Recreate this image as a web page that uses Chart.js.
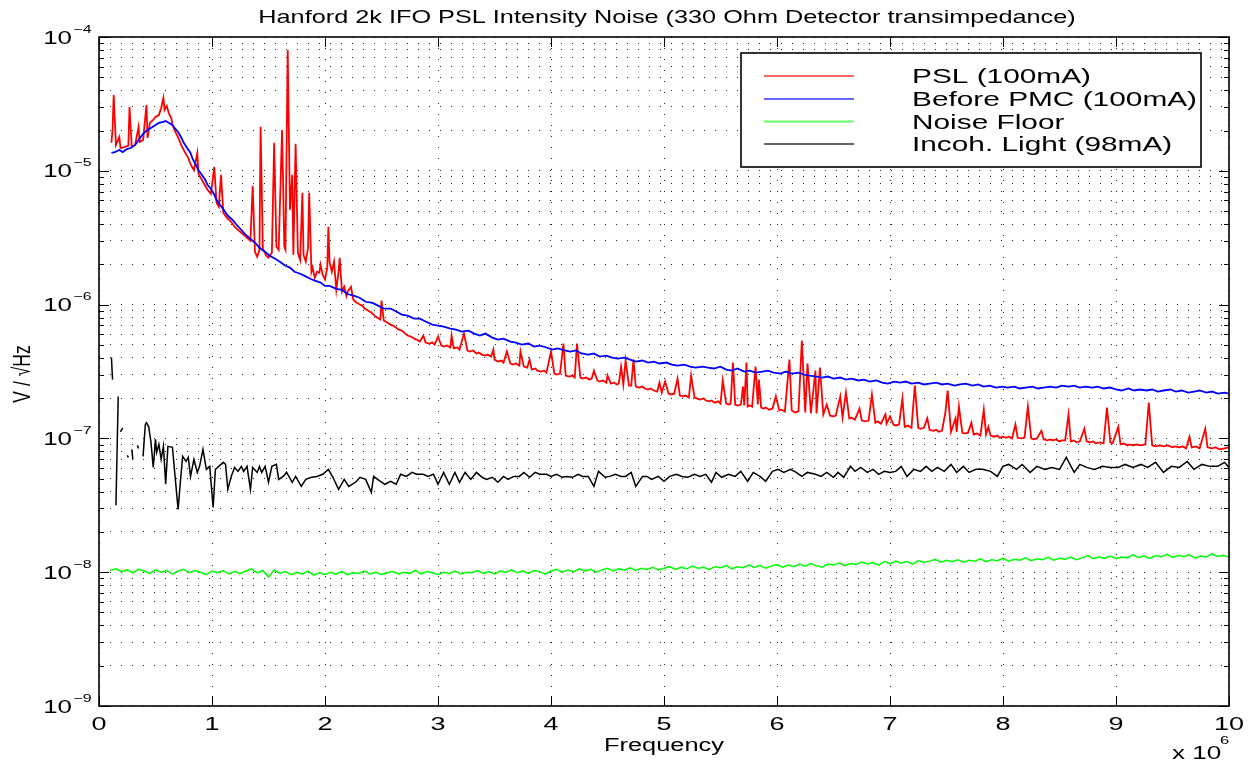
<!DOCTYPE html>
<html><head><meta charset="utf-8">
<script src="https://cdn.jsdelivr.net/npm/chart.js@4.4.1/dist/chart.umd.min.js"></script>
<style>html,body{margin:0;padding:0;background:#fff;}canvas{display:block;}</style>
</head><body>
<canvas id="c" width="1254" height="765"></canvas>
<script>
// ---------- texts / ticks ----------
const titleText = 'Hanford 2k IFO PSL Intensity Noise (330 Ohm Detector transimpedance)';
const xAxisTitle = 'Frequency';
const yAxisTitle = 'V / \u221AHz';
const xMultiplier = ['x 10', '6'];
const xTicks = [0,1,2,3,4,5,6,7,8,9,10];
const xTickLabels = ['0','1','2','3','4','5','6','7','8','9','10'];
const yDecades = [1e-9,1e-8,1e-7,1e-6,1e-5,1e-4];
const yDecadeExponents = ['\u22129','\u22128','\u22127','\u22126','\u22125','\u22124'];
const yMinorMultipliers = [2,3,4,5,6,7,8,9];
const seriesLabels = ['PSL (100mA)','Before PMC (100mA)','Noise Floor','Incoh. Light (98mA)'];
const seriesColors = ['#ff0000','#0000ff','#00ff00','#000000'];

// ---------- data: [frequency (MHz), V/sqrt(Hz)] ----------
const pslPoints = [
[0.11,1.62e-5],[0.12,2.02e-5],[0.13,3.69e-5],[0.15,1.56e-5],[0.18,1.79e-5],[0.19,1.48e-5],[0.23,1.51e-5],[0.26,1.54e-5],
[0.27,3.00e-5],[0.29,1.51e-5],[0.32,1.56e-5],[0.35,2.13e-5],[0.36,1.64e-5],[0.39,1.70e-5],[0.42,3.10e-5],[0.43,1.76e-5],
[0.45,2.28e-5],[0.48,2.40e-5],[0.50,2.53e-5],[0.53,2.61e-5],[0.55,2.95e-5],[0.57,3.50e-5],[0.58,2.85e-5],[0.60,3.05e-5],
[0.62,2.66e-5],[0.64,2.48e-5],[0.65,2.20e-5],[0.68,1.92e-5],[0.71,1.70e-5],[0.73,1.54e-5],[0.76,1.38e-5],[0.79,1.25e-5],
[0.81,1.12e-5],[0.84,1.01e-5],[0.87,1.36e-5],[0.88,9.50e-6],[0.91,8.57e-6],[0.94,7.73e-6],[0.96,7.21e-6],[0.99,6.73e-6],
[1.02,1.07e-5],[1.04,5.77e-6],[1.06,5.39e-6],[1.08,9.34e-6],[1.10,4.86e-6],[1.13,4.46e-6],[1.17,4.16e-6],[1.20,3.82e-6],
[1.24,3.56e-6],[1.27,3.38e-6],[1.31,3.16e-6],[1.34,3.00e-6],[1.36,7.73e-6],[1.38,2.48e-6],[1.40,2.28e-6],[1.42,2.57e-6],
[1.43,2.13e-5],[1.45,2.61e-6],[1.48,2.32e-6],[1.50,2.24e-6],[1.53,2.44e-6],[1.55,1.62e-5],[1.57,2.71e-6],[1.59,2.57e-6],
[1.62,2.02e-5],[1.64,2.71e-6],[1.65,2.57e-6],[1.67,8.00e-5],[1.69,5.12e-6],[1.71,9.34e-6],[1.72,2.36e-6],[1.74,1.59e-5],
[1.76,2.44e-6],[1.78,2.16e-6],[1.80,6.85e-6],[1.81,2.36e-6],[1.83,2.09e-6],[1.85,2.66e-6],[1.86,6.85e-6],[1.88,1.76e-6],
[1.89,1.89e-6],[1.91,1.59e-6],[1.93,1.76e-6],[1.95,1.73e-6],[1.96,1.99e-6],[1.98,1.67e-6],[2.00,1.54e-6],[2.02,1.89e-6],
[2.03,3.82e-6],[2.04,2.09e-6],[2.06,1.76e-6],[2.08,2.09e-6],[2.10,1.29e-6],[2.12,1.76e-6],[2.13,2.24e-6],[2.15,1.25e-6],
[2.17,1.36e-6],[2.19,1.16e-6],[2.20,1.25e-6],[2.23,1.36e-6],[2.25,1.09e-6],[2.27,1.05e-6],[2.30,1.01e-6],[2.33,9.83e-7],
[2.35,9.34e-7],[2.38,9.02e-7],[2.41,8.72e-7],[2.43,8.42e-7],[2.46,8.00e-7],[2.49,7.73e-7],[2.50,1.07e-6],[2.52,7.60e-7],
[2.55,7.34e-7],[2.58,7.09e-7],[2.60,6.97e-7],[2.63,6.73e-7],[2.65,6.51e-7],[2.68,6.39e-7],[2.71,6.07e-7],[2.73,5.87e-7],
[2.76,5.77e-7],[2.79,5.57e-7],[2.81,5.48e-7],[2.84,5.29e-7],[2.87,5.87e-7],[2.89,5.20e-7],[2.92,5.12e-7],[2.95,5.20e-7],
[2.97,5.03e-7],[3.00,5.77e-7],[3.03,4.94e-7],[3.05,4.86e-7],[3.08,4.94e-7],[3.11,4.78e-7],[3.12,5.87e-7],[3.14,4.70e-7],
[3.17,4.78e-7],[3.19,4.61e-7],[3.23,6.07e-7],[3.26,4.54e-7],[3.28,4.46e-7],[3.31,4.54e-7],[3.34,4.31e-7],[3.36,4.38e-7],
[3.39,4.23e-7],[3.42,4.16e-7],[3.44,4.23e-7],[3.47,4.09e-7],[3.49,4.61e-7],[3.50,3.88e-7],[3.53,3.75e-7],[3.56,3.82e-7],
[3.58,3.69e-7],[3.61,4.46e-7],[3.64,3.63e-7],[3.66,3.56e-7],[3.69,3.63e-7],[3.72,3.50e-7],[3.73,4.46e-7],[3.76,3.44e-7],
[3.79,3.38e-7],[3.81,3.88e-7],[3.83,3.27e-7],[3.86,3.33e-7],[3.88,3.21e-7],[3.91,3.16e-7],[3.94,3.21e-7],[3.96,3.10e-7],
[4.00,4.46e-7],[4.03,3.05e-7],[4.05,3.00e-7],[4.08,3.05e-7],[4.11,5.12e-7],[4.13,2.95e-7],[4.16,2.90e-7],[4.19,2.95e-7],
[4.21,2.85e-7],[4.23,5.12e-7],[4.26,2.85e-7],[4.28,2.80e-7],[4.31,2.85e-7],[4.34,2.75e-7],[4.36,2.80e-7],[4.38,3.21e-7],
[4.41,2.71e-7],[4.43,2.66e-7],[4.46,2.71e-7],[4.49,2.61e-7],[4.50,2.95e-7],[4.53,2.57e-7],[4.56,2.61e-7],[4.58,2.53e-7],
[4.60,2.57e-7],[4.62,3.44e-7],[4.64,2.53e-7],[4.66,3.82e-7],[4.69,2.48e-7],[4.71,2.48e-7],[4.73,3.88e-7],[4.75,2.44e-7],
[4.78,2.40e-7],[4.81,2.44e-7],[4.83,2.36e-7],[4.86,2.32e-7],[4.88,2.36e-7],[4.91,2.28e-7],[4.94,2.24e-7],[4.96,2.61e-7],
[4.98,2.20e-7],[5.01,2.66e-7],[5.04,2.16e-7],[5.06,2.13e-7],[5.09,2.16e-7],[5.12,2.80e-7],[5.14,2.09e-7],[5.17,2.06e-7],
[5.19,2.09e-7],[5.22,2.02e-7],[5.24,2.95e-7],[5.27,2.02e-7],[5.29,1.99e-7],[5.32,1.95e-7],[5.35,1.99e-7],[5.37,1.92e-7],
[5.40,1.89e-7],[5.42,1.92e-7],[5.45,1.85e-7],[5.48,1.89e-7],[5.50,1.82e-7],[5.52,2.71e-7],[5.55,1.82e-7],[5.58,1.79e-7],
[5.59,1.82e-7],[5.61,3.69e-7],[5.63,1.79e-7],[5.65,1.76e-7],[5.68,1.79e-7],[5.70,2.44e-7],[5.71,1.76e-7],[5.73,3.69e-7],
[5.74,1.73e-7],[5.76,1.76e-7],[5.78,1.73e-7],[5.81,3.44e-7],[5.83,1.79e-7],[5.84,2.75e-7],[5.86,1.70e-7],[5.88,1.67e-7],
[5.90,1.70e-7],[5.93,1.64e-7],[5.96,1.67e-7],[5.99,2.06e-7],[6.02,1.62e-7],[6.04,1.64e-7],[6.07,1.59e-7],[6.11,3.88e-7],
[6.13,1.62e-7],[6.16,1.56e-7],[6.19,1.59e-7],[6.22,5.39e-7],[6.25,1.56e-7],[6.27,3.63e-7],[6.30,1.54e-7],[6.34,3.21e-7],
[6.35,1.54e-7],[6.38,3.38e-7],[6.41,1.51e-7],[6.44,1.79e-7],[6.47,1.48e-7],[6.50,1.46e-7],[6.52,1.48e-7],[6.56,2.06e-7],
[6.58,1.43e-7],[6.61,2.20e-7],[6.64,1.41e-7],[6.66,1.43e-7],[6.69,1.38e-7],[6.73,1.67e-7],[6.75,1.36e-7],[6.78,1.34e-7],
[6.81,1.36e-7],[6.84,2.13e-7],[6.87,1.31e-7],[6.89,1.34e-7],[6.92,1.29e-7],[6.96,1.51e-7],[6.97,1.29e-7],[7.00,1.46e-7],
[7.03,1.27e-7],[7.05,1.25e-7],[7.08,1.27e-7],[7.11,1.99e-7],[7.13,1.22e-7],[7.16,1.25e-7],[7.19,1.20e-7],[7.22,2.48e-7],
[7.25,1.20e-7],[7.27,1.18e-7],[7.30,1.20e-7],[7.33,1.41e-7],[7.35,1.16e-7],[7.38,1.14e-7],[7.41,1.16e-7],[7.43,1.12e-7],
[7.46,1.14e-7],[7.49,1.56e-7],[7.51,2.28e-7],[7.54,1.12e-7],[7.58,1.41e-7],[7.59,1.12e-7],[7.61,1.73e-7],[7.64,1.10e-7],
[7.66,1.09e-7],[7.69,1.10e-7],[7.72,1.31e-7],[7.74,1.07e-7],[7.77,1.09e-7],[7.80,1.05e-7],[7.83,1.64e-7],[7.85,1.07e-7],
[7.87,1.22e-7],[7.89,1.05e-7],[7.92,1.03e-7],[7.95,1.05e-7],[7.97,1.01e-7],[8.00,1.03e-7],[8.03,1.01e-7],[8.05,1.03e-7],
[8.08,1.00e-7],[8.11,1.27e-7],[8.13,1.01e-7],[8.16,1.00e-7],[8.19,1.01e-7],[8.22,1.73e-7],[8.25,1.00e-7],[8.27,9.83e-8],
[8.30,1.00e-7],[8.34,1.14e-7],[8.36,9.83e-8],[8.39,9.66e-8],[8.42,9.83e-8],[8.44,9.66e-8],[8.47,9.83e-8],[8.50,9.50e-8],
[8.52,9.66e-8],[8.55,9.66e-8],[8.58,1.51e-7],[8.60,9.50e-8],[8.63,9.66e-8],[8.65,9.34e-8],[8.68,9.50e-8],[8.72,1.18e-7],
[8.74,9.50e-8],[8.77,9.34e-8],[8.80,9.50e-8],[8.82,9.18e-8],[8.86,9.34e-8],[8.89,9.18e-8],[8.92,1.70e-7],[8.95,9.34e-8],
[8.97,9.18e-8],[9.02,1.22e-7],[9.04,9.02e-8],[9.07,9.18e-8],[9.10,8.87e-8],[9.12,9.02e-8],[9.15,8.87e-8],[9.18,9.02e-8],
[9.22,8.87e-8],[9.26,9.02e-8],[9.29,1.85e-7],[9.32,8.87e-8],[9.35,8.72e-8],[9.39,8.87e-8],[9.42,8.72e-8],[9.46,8.87e-8],
[9.50,8.57e-8],[9.52,8.72e-8],[9.56,8.57e-8],[9.59,8.72e-8],[9.62,8.42e-8],[9.65,1.03e-7],[9.67,8.57e-8],[9.71,8.72e-8],
[9.74,8.42e-8],[9.79,1.18e-7],[9.81,8.57e-8],[9.85,8.42e-8],[9.88,8.57e-8],[9.92,8.28e-8],[9.96,8.42e-8],[10.00,8.57e-8]
];
const pmcPoints = [
[0.11,1.36e-5],[0.14,1.38e-5],[0.18,1.43e-5],[0.21,1.38e-5],[0.25,1.46e-5],[0.28,1.48e-5],[0.32,1.56e-5],[0.35,1.70e-5],
[0.39,1.89e-5],[0.42,1.99e-5],[0.46,2.09e-5],[0.50,2.20e-5],[0.53,2.28e-5],[0.57,2.32e-5],[0.59,2.36e-5],[0.62,2.28e-5],
[0.65,2.20e-5],[0.67,2.09e-5],[0.70,1.95e-5],[0.73,1.76e-5],[0.75,1.62e-5],[0.78,1.48e-5],[0.81,1.36e-5],[0.83,1.22e-5],
[0.86,1.10e-5],[0.88,1.01e-5],[0.91,9.34e-6],[0.94,8.57e-6],[0.96,7.86e-6],[0.99,7.34e-6],[1.02,6.62e-6],[1.04,6.07e-6],
[1.07,5.57e-6],[1.11,5.03e-6],[1.14,4.61e-6],[1.18,4.31e-6],[1.21,4.02e-6],[1.25,3.69e-6],[1.29,3.38e-6],[1.34,3.10e-6],
[1.38,2.90e-6],[1.42,2.66e-6],[1.47,2.48e-6],[1.51,2.32e-6],[1.56,2.20e-6],[1.60,2.09e-6],[1.65,1.95e-6],[1.69,1.89e-6],
[1.73,1.76e-6],[1.78,1.70e-6],[1.82,1.64e-6],[1.87,1.56e-6],[1.91,1.51e-6],[1.96,1.46e-6],[2.00,1.38e-6],[2.04,1.38e-6],
[2.10,1.31e-6],[2.15,1.29e-6],[2.20,1.20e-6],[2.26,1.16e-6],[2.31,1.12e-6],[2.36,1.05e-6],[2.42,1.03e-6],[2.47,9.83e-7],
[2.52,9.34e-7],[2.58,9.34e-7],[2.63,8.87e-7],[2.68,8.42e-7],[2.73,8.28e-7],[2.79,7.86e-7],[2.84,7.86e-7],[2.89,7.47e-7],
[2.95,7.09e-7],[3.00,6.97e-7],[3.05,6.85e-7],[3.11,6.62e-7],[3.16,6.51e-7],[3.21,6.29e-7],[3.27,6.39e-7],[3.32,6.07e-7],
[3.37,5.87e-7],[3.42,6.07e-7],[3.48,5.67e-7],[3.53,5.48e-7],[3.58,5.57e-7],[3.64,5.29e-7],[3.69,5.20e-7],[3.74,5.03e-7],
[3.80,5.12e-7],[3.85,4.86e-7],[3.90,4.94e-7],[3.96,4.78e-7],[4.01,4.61e-7],[4.06,4.70e-7],[4.12,4.54e-7],[4.17,4.46e-7],
[4.22,4.54e-7],[4.27,4.31e-7],[4.33,4.23e-7],[4.38,4.31e-7],[4.43,4.09e-7],[4.49,4.16e-7],[4.54,4.02e-7],[4.59,3.95e-7],
[4.65,4.02e-7],[4.70,3.88e-7],[4.75,3.75e-7],[4.81,3.82e-7],[4.86,3.69e-7],[4.91,3.75e-7],[4.96,3.63e-7],[5.02,3.69e-7],
[5.07,3.56e-7],[5.12,3.50e-7],[5.18,3.56e-7],[5.23,3.44e-7],[5.28,3.38e-7],[5.34,3.44e-7],[5.39,3.38e-7],[5.44,3.33e-7],
[5.50,3.44e-7],[5.55,3.27e-7],[5.60,3.21e-7],[5.65,3.33e-7],[5.71,3.16e-7],[5.76,3.21e-7],[5.81,3.10e-7],[5.87,3.16e-7],
[5.92,3.21e-7],[5.97,3.10e-7],[6.03,3.05e-7],[6.08,3.16e-7],[6.13,3.05e-7],[6.19,3.10e-7],[6.24,3.00e-7],[6.29,2.95e-7],
[6.35,2.90e-7],[6.40,2.85e-7],[6.45,2.90e-7],[6.50,2.80e-7],[6.56,2.85e-7],[6.61,2.75e-7],[6.66,2.80e-7],[6.72,2.71e-7],
[6.77,2.75e-7],[6.82,2.66e-7],[6.88,2.71e-7],[6.93,2.61e-7],[6.98,2.57e-7],[7.04,2.66e-7],[7.09,2.61e-7],[7.14,2.66e-7],
[7.19,2.57e-7],[7.25,2.61e-7],[7.30,2.53e-7],[7.35,2.57e-7],[7.41,2.61e-7],[7.46,2.53e-7],[7.51,2.57e-7],[7.57,2.48e-7],
[7.62,2.53e-7],[7.67,2.57e-7],[7.73,2.48e-7],[7.78,2.53e-7],[7.83,2.44e-7],[7.88,2.48e-7],[7.94,2.40e-7],[7.99,2.44e-7],
[8.04,2.40e-7],[8.10,2.44e-7],[8.15,2.36e-7],[8.20,2.40e-7],[8.26,2.44e-7],[8.31,2.36e-7],[8.36,2.40e-7],[8.42,2.44e-7],
[8.47,2.40e-7],[8.52,2.48e-7],[8.58,2.44e-7],[8.63,2.48e-7],[8.68,2.40e-7],[8.73,2.44e-7],[8.79,2.40e-7],[8.84,2.44e-7],
[8.89,2.36e-7],[8.95,2.40e-7],[9.00,2.32e-7],[9.05,2.28e-7],[9.11,2.36e-7],[9.16,2.28e-7],[9.21,2.32e-7],[9.27,2.28e-7],
[9.32,2.32e-7],[9.37,2.24e-7],[9.42,2.28e-7],[9.48,2.32e-7],[9.53,2.24e-7],[9.58,2.28e-7],[9.64,2.20e-7],[9.69,2.24e-7],
[9.74,2.28e-7],[9.80,2.20e-7],[9.85,2.24e-7],[9.90,2.16e-7],[9.96,2.20e-7],[10.00,2.16e-7]
];
const floorPoints = [
[0.10,1.03e-8],[0.15,1.06e-8],[0.20,1.01e-8],[0.25,1.04e-8],[0.30,9.9e-9],[0.35,1.05e-8],[0.40,1.02e-8],[0.45,9.8e-9],
[0.50,1.04e-8],[0.55,1.00e-8],[0.60,1.03e-8],[0.65,9.7e-9],[0.70,1.02e-8],[0.75,1.05e-8],[0.80,9.9e-9],[0.85,1.03e-8],
[0.90,1.00e-8],[0.95,9.6e-9],[1.00,1.02e-8],[1.05,9.9e-9],[1.10,1.03e-8],[1.15,9.7e-9],[1.20,1.01e-8],[1.25,9.8e-9],
[1.30,1.02e-8],[1.35,1.06e-8],[1.40,9.9e-9],[1.45,1.03e-8],[1.50,9.2e-9],[1.55,1.04e-8],[1.60,9.8e-9],[1.65,1.01e-8],
[1.70,9.6e-9],[1.75,1.00e-8],[1.80,9.7e-9],[1.85,1.02e-8],[1.90,9.5e-9],[1.95,9.9e-9],[2.00,9.6e-9],[2.05,1.00e-8],
[2.10,9.7e-9],[2.15,1.01e-8],[2.20,9.6e-9],[2.25,9.9e-9],[2.30,9.8e-9],[2.35,1.02e-8],[2.40,9.7e-9],[2.45,1.00e-8],
[2.50,9.6e-9],[2.55,9.9e-9],[2.60,1.01e-8],[2.65,9.7e-9],[2.70,1.00e-8],[2.75,9.8e-9],[2.80,1.03e-8],[2.85,9.7e-9],
[2.90,1.01e-8],[2.95,9.9e-9],[3.00,9.6e-9],[3.05,1.00e-8],[3.10,9.8e-9],[3.15,1.02e-8],[3.20,9.7e-9],[3.25,1.00e-8],
[3.30,9.9e-9],[3.35,1.03e-8],[3.40,9.8e-9],[3.45,1.01e-8],[3.50,9.7e-9],[3.55,1.02e-8],[3.60,1.00e-8],[3.65,1.04e-8],
[3.70,9.9e-9],[3.75,1.02e-8],[3.80,9.8e-9],[3.85,1.03e-8],[3.90,1.01e-8],[3.95,9.7e-9],[4.00,1.02e-8],[4.05,1.05e-8],
[4.10,1.00e-8],[4.15,1.04e-8],[4.20,1.01e-8],[4.25,1.06e-8],[4.30,1.02e-8],[4.35,1.05e-8],[4.40,1.00e-8],[4.45,1.04e-8],
[4.50,1.07e-8],[4.55,1.02e-8],[4.60,1.06e-8],[4.65,1.04e-8],[4.70,1.08e-8],[4.75,1.03e-8],[4.80,1.07e-8],[4.85,1.05e-8],
[4.90,1.09e-8],[4.95,1.04e-8],[5.00,1.07e-8],[5.05,1.10e-8],[5.10,1.05e-8],[5.15,1.09e-8],[5.20,1.06e-8],[5.25,1.11e-8],
[5.30,1.07e-8],[5.35,1.09e-8],[5.40,1.05e-8],[5.45,1.10e-8],[5.50,1.08e-8],[5.55,1.12e-8],[5.60,1.06e-8],[5.65,1.10e-8],
[5.70,1.08e-8],[5.75,1.13e-8],[5.80,1.09e-8],[5.85,1.12e-8],[5.90,1.07e-8],[5.95,1.11e-8],[6.00,1.14e-8],[6.05,1.09e-8],
[6.10,1.13e-8],[6.15,1.10e-8],[6.20,1.15e-8],[6.25,1.11e-8],[6.30,1.16e-8],[6.35,1.12e-8],[6.40,1.09e-8],[6.45,1.15e-8],
[6.50,1.13e-8],[6.55,1.17e-8],[6.60,1.12e-8],[6.65,1.16e-8],[6.70,1.14e-8],[6.75,1.19e-8],[6.80,1.15e-8],[6.85,1.18e-8],
[6.90,1.13e-8],[6.95,1.20e-8],[7.00,1.16e-8],[7.05,1.21e-8],[7.10,1.17e-8],[7.15,1.20e-8],[7.20,1.15e-8],[7.25,1.22e-8],
[7.30,1.18e-8],[7.35,1.21e-8],[7.40,1.25e-8],[7.45,1.19e-8],[7.50,1.23e-8],[7.55,1.20e-8],[7.60,1.24e-8],[7.65,1.19e-8],
[7.70,1.23e-8],[7.75,1.21e-8],[7.80,1.26e-8],[7.85,1.20e-8],[7.90,1.24e-8],[7.95,1.22e-8],[8.00,1.27e-8],[8.05,1.21e-8],
[8.10,1.25e-8],[8.15,1.23e-8],[8.20,1.28e-8],[8.25,1.22e-8],[8.30,1.26e-8],[8.35,1.24e-8],[8.40,1.29e-8],[8.45,1.23e-8],
[8.50,1.27e-8],[8.55,1.25e-8],[8.60,1.30e-8],[8.65,1.24e-8],[8.70,1.28e-8],[8.75,1.33e-8],[8.80,1.26e-8],[8.85,1.30e-8],
[8.90,1.27e-8],[8.95,1.32e-8],[9.00,1.26e-8],[9.05,1.30e-8],[9.10,1.28e-8],[9.15,1.35e-8],[9.20,1.29e-8],[9.25,1.32e-8],
[9.30,1.27e-8],[9.35,1.33e-8],[9.40,1.30e-8],[9.45,1.36e-8],[9.50,1.29e-8],[9.55,1.33e-8],[9.60,1.31e-8],[9.65,1.35e-8],
[9.70,1.28e-8],[9.75,1.32e-8],[9.80,1.30e-8],[9.85,1.37e-8],[9.90,1.31e-8],[9.95,1.34e-8],[10.00,1.30e-8]
];
const incohPoints = [
[0.11,4.02e-7],[0.12,2.75e-7],[0.135,null],[0.15,3.16e-8],[0.17,2.06e-7],[0.18,null],[0.19,1.12e-7],[0.21,1.20e-7],
[0.23,null],[0.25,7.47e-8],[0.26,7.21e-8],[0.28,null],[0.29,8.28e-8],[0.30,6.97e-8],[0.32,null],[0.34,8.87e-8],
[0.35,8.42e-8],[0.37,null],
[0.39,7.34e-8],[0.41,1.27e-7],[0.42,1.31e-7],[0.44,1.22e-7],[0.46,9.34e-8],[0.48,6.07e-8],[0.50,9.83e-8],[0.51,7.86e-8],
[0.53,9.02e-8],[0.55,6.97e-8],[0.57,8.72e-8],[0.59,4.54e-8],[0.61,8.72e-8],[0.65,8.57e-8],[0.67,5.57e-8],[0.70,2.95e-8],
[0.72,4.70e-8],[0.74,7.34e-8],[0.77,6.73e-8],[0.79,7.21e-8],[0.81,5.20e-8],[0.84,6.97e-8],[0.87,5.57e-8],[0.89,6.18e-8],
[0.92,8.28e-8],[0.95,5.87e-8],[0.98,6.18e-8],[1.01,3.05e-8],[1.03,5.87e-8],[1.06,6.18e-8],[1.10,6.62e-8],[1.12,6.39e-8],
[1.14,4.16e-8],[1.17,5.20e-8],[1.20,6.07e-8],[1.23,5.67e-8],[1.26,6.18e-8],[1.28,5.67e-8],[1.31,6.18e-8],[1.34,4.16e-8],
[1.36,6.07e-8],[1.40,5.57e-8],[1.42,6.18e-8],[1.44,5.57e-8],[1.47,6.18e-8],[1.50,4.70e-8],[1.53,6.18e-8],[1.57,6.39e-8],
[1.59,4.94e-8],[1.63,5.20e-8],[1.66,5.57e-8],[1.71,4.70e-8],[1.74,5.20e-8],[1.79,4.38e-8],[1.83,4.94e-8],[1.88,5.12e-8],
[1.93,5.20e-8],[1.98,5.39e-8],[2.03,5.87e-8],[2.07,5.12e-8],[2.12,4.16e-8],[2.17,4.94e-8],[2.21,4.38e-8],[2.27,4.70e-8],
[2.31,5.12e-8],[2.36,4.94e-8],[2.41,3.95e-8],[2.43,5.20e-8],[2.49,4.78e-8],[2.53,4.54e-8],[2.58,4.78e-8],[2.63,4.54e-8],
[2.67,5.39e-8],[2.72,5.20e-8],[2.77,5.57e-8],[2.81,5.39e-8],[2.87,5.39e-8],[2.91,5.20e-8],[2.96,5.39e-8],[3.00,4.54e-8],
[3.05,5.57e-8],[3.10,4.54e-8],[3.15,5.57e-8],[3.19,4.70e-8],[3.24,5.57e-8],[3.29,4.94e-8],[3.34,5.57e-8],[3.39,5.12e-8],
[3.43,4.94e-8],[3.48,5.12e-8],[3.53,4.70e-8],[3.58,5.20e-8],[3.62,4.94e-8],[3.67,5.20e-8],[3.72,5.20e-8],[3.76,5.57e-8],
[3.81,5.12e-8],[3.86,5.57e-8],[3.90,5.39e-8],[3.96,5.39e-8],[4.00,5.20e-8],[4.05,5.39e-8],[4.10,5.12e-8],[4.14,5.20e-8],
[4.19,5.12e-8],[4.24,5.39e-8],[4.28,5.20e-8],[4.33,5.20e-8],[4.38,4.38e-8],[4.42,5.67e-8],[4.48,5.12e-8],[4.52,5.20e-8],
[4.57,5.39e-8],[4.62,5.20e-8],[4.66,5.20e-8],[4.71,5.57e-8],[4.75,4.38e-8],[4.81,5.20e-8],[4.85,5.20e-8],[4.89,4.94e-8],
[4.95,5.20e-8],[5.00,4.78e-8],[5.05,5.20e-8],[5.11,5.39e-8],[5.16,5.20e-8],[5.21,5.12e-8],[5.27,5.39e-8],[5.32,5.20e-8],
[5.37,5.39e-8],[5.42,4.70e-8],[5.46,5.57e-8],[5.51,5.12e-8],[5.57,5.39e-8],[5.63,5.20e-8],[5.68,5.67e-8],[5.74,4.78e-8],
[5.79,5.57e-8],[5.85,5.20e-8],[5.90,4.78e-8],[5.96,5.67e-8],[6.01,5.87e-8],[6.06,5.57e-8],[6.12,5.87e-8],[6.17,5.57e-8],
[6.22,5.20e-8],[6.27,5.57e-8],[6.34,5.39e-8],[6.39,5.20e-8],[6.44,5.57e-8],[6.50,5.12e-8],[6.54,5.57e-8],[6.59,5.12e-8],
[6.65,6.18e-8],[6.69,5.67e-8],[6.74,6.07e-8],[6.80,5.57e-8],[6.85,5.87e-8],[6.90,5.39e-8],[6.95,5.67e-8],[7.00,5.57e-8],
[7.05,5.67e-8],[7.10,6.18e-8],[7.15,5.20e-8],[7.21,5.87e-8],[7.27,5.67e-8],[7.32,6.18e-8],[7.37,5.67e-8],[7.42,6.07e-8],
[7.48,5.67e-8],[7.54,6.39e-8],[7.59,5.57e-8],[7.65,6.18e-8],[7.70,5.57e-8],[7.76,5.87e-8],[7.82,5.87e-8],[7.89,5.67e-8],
[7.95,5.20e-8],[8.00,6.18e-8],[8.05,6.39e-8],[8.12,5.87e-8],[8.17,6.39e-8],[8.24,5.57e-8],[8.30,6.18e-8],[8.37,5.87e-8],
[8.43,6.07e-8],[8.50,5.87e-8],[8.56,7.21e-8],[8.63,5.57e-8],[8.68,6.39e-8],[8.74,6.07e-8],[8.81,5.87e-8],[8.88,6.18e-8],
[8.95,6.07e-8],[9.02,6.07e-8],[9.08,6.39e-8],[9.15,6.07e-8],[9.22,6.39e-8],[9.28,6.07e-8],[9.35,6.62e-8],[9.42,5.57e-8],
[9.49,6.18e-8],[9.56,6.07e-8],[9.63,6.73e-8],[9.69,5.87e-8],[9.76,6.39e-8],[9.83,6.18e-8],[9.90,6.18e-8],[9.96,6.62e-8],
[10.00,6.07e-8]
];

// ---------- drawing ----------
const FONT = '"Liberation Sans", Arial, Helvetica, sans-serif';
const toXY = pts => pts.map(p => ({x: p[0], y: p[1]}));

function stext(ctx, str, x, y, size, sx, align) {
  ctx.save();
  ctx.font = size + 'px ' + FONT;
  ctx.textAlign = align || 'left';
  ctx.textBaseline = 'alphabetic';
  ctx.fillStyle = '#000';
  ctx.translate(x, y);
  ctx.scale(sx, 1);
  ctx.fillText(str, 0, 0);
  ctx.restore();
}
const isDecade = v => Math.abs(Math.log10(v) - Math.round(Math.log10(v))) < 1e-6;

const decorPlugin = {
  id: 'decor',
  afterDatasetsDraw(chart) {
    const {ctx, chartArea: a, scales: {x, y}} = chart;
    ctx.save();
    ctx.strokeStyle = '#000';
    ctx.lineWidth = 1;
    ctx.beginPath();
    xTicks.forEach(v => {
      const px = Math.round(x.getPixelForValue(v)) + 0.5;
      ctx.moveTo(px, a.bottom); ctx.lineTo(px, a.bottom - 10);
      ctx.moveTo(px, a.top); ctx.lineTo(px, a.top + 10);
    });
    y.ticks.forEach(t => {
      const py = Math.round(y.getPixelForValue(t.value)) + 0.5;
      const len = isDecade(t.value) ? 10 : 5;
      ctx.moveTo(a.left, py); ctx.lineTo(a.left + len, py);
      ctx.moveTo(a.right, py); ctx.lineTo(a.right - len, py);
    });
    ctx.stroke();
    ctx.lineWidth = 1.6;
    ctx.strokeRect(a.left, a.top, a.right - a.left, a.bottom - a.top);
    ctx.restore();
  },
  afterDraw(chart) {
    const {ctx, chartArea: a, scales: {x, y}} = chart;
    stext(ctx, titleText, 667, 23, 19, 1.33, 'center');
    xTicks.forEach((v, i) => stext(ctx, xTickLabels[i], x.getPixelForValue(v), 730, 18, 1.5, 'center'));
    stext(ctx, xMultiplier[0], 1172, 759, 18, 1.45, 'left');
    stext(ctx, xMultiplier[1], 1220, 744, 11.5, 1.45, 'left');
    stext(ctx, xAxisTitle, (a.left + a.right) / 2, 751, 18, 1.41, 'center');
    yDecades.forEach((v, i) => {
      const py = y.getPixelForValue(v);
      stext(ctx, '10', 72, py + 6.5, 18.5, 1.4, 'right');
      stext(ctx, yDecadeExponents[i], 73.5, py - 4.5, 11, 1.45, 'left');
    });
    ctx.save();
    ctx.font = '17.5px ' + FONT;
    ctx.fillStyle = '#000';
    ctx.textAlign = 'center';
    ctx.textBaseline = 'middle';
    ctx.translate(23, 374);
    ctx.scale(1.4, 1);
    ctx.rotate(-Math.PI / 2);
    ctx.fillText(yAxisTitle, 0, 0);
    ctx.restore();
    // legend
    ctx.save();
    ctx.fillStyle = '#fff';
    ctx.fillRect(741, 53, 460, 114);
    ctx.strokeStyle = '#000';
    ctx.lineWidth = 1.6;
    ctx.strokeRect(741, 53, 460, 114);
    const rows = [76, 99, 121.5, 144];
    seriesLabels.forEach((lab, i) => {
      ctx.save();
      ctx.globalAlpha = 0.6;
      ctx.beginPath();
      ctx.strokeStyle = seriesColors[i];
      ctx.lineWidth = 2;
      ctx.moveTo(764, rows[i]); ctx.lineTo(854, rows[i]);
      ctx.stroke();
      ctx.restore();
      stext(ctx, lab, 912, rows[i] + 7.4, 21, 1.42, 'left');
    });
    ctx.restore();
  }
};

const gridOpts = {drawTicks: false, color: 'rgba(0,0,0,0.85)', lineWidth: 1};
const borderOpts = {display: false, dash: [1, 10]};

new Chart(document.getElementById('c'), {
  type: 'line',
  data: {
    datasets: [
      {label: seriesLabels[0], data: toXY(pslPoints), borderColor: seriesColors[0], borderWidth: 1.8, order: 4},
      {label: seriesLabels[1], data: toXY(pmcPoints), borderColor: seriesColors[1], borderWidth: 1.8, order: 3},
      {label: seriesLabels[2], data: toXY(floorPoints), borderColor: seriesColors[2], borderWidth: 1.5, order: 2},
      {label: seriesLabels[3], data: toXY(incohPoints), borderColor: seriesColors[3], borderWidth: 1.5, order: 1, spanGaps: false}
    ]
  },
  options: {
    responsive: false,
    animation: false,
    devicePixelRatio: 1,
    elements: {point: {radius: 0}, line: {tension: 0, fill: false}},
    layout: {padding: {top: 37, right: 25, left: 0, bottom: 0}},
    plugins: {legend: {display: false}, tooltip: {enabled: false}, title: {display: false}},
    scales: {
      x: {
        type: 'linear', min: 0, max: 10,
        afterBuildTicks: s => { s.ticks = xTicks.map(v => ({value: v})); },
        afterFit: s => { s.height = 59; },
        ticks: {display: false},
        grid: gridOpts,
        border: borderOpts
      },
      y: {
        type: 'logarithmic', min: 1e-9, max: 1e-4,
        afterBuildTicks: s => {
          const t = [];
          yDecades.forEach((d, i) => {
            t.push({value: d});
            if (i < yDecades.length - 1) yMinorMultipliers.forEach(m => t.push({value: m * d}));
          });
          s.ticks = t;
        },
        afterFit: s => { s.width = 99; },
        ticks: {display: false},
        grid: gridOpts,
        border: borderOpts
      }
    }
  },
  plugins: [decorPlugin]
});
</script>
</body></html>
